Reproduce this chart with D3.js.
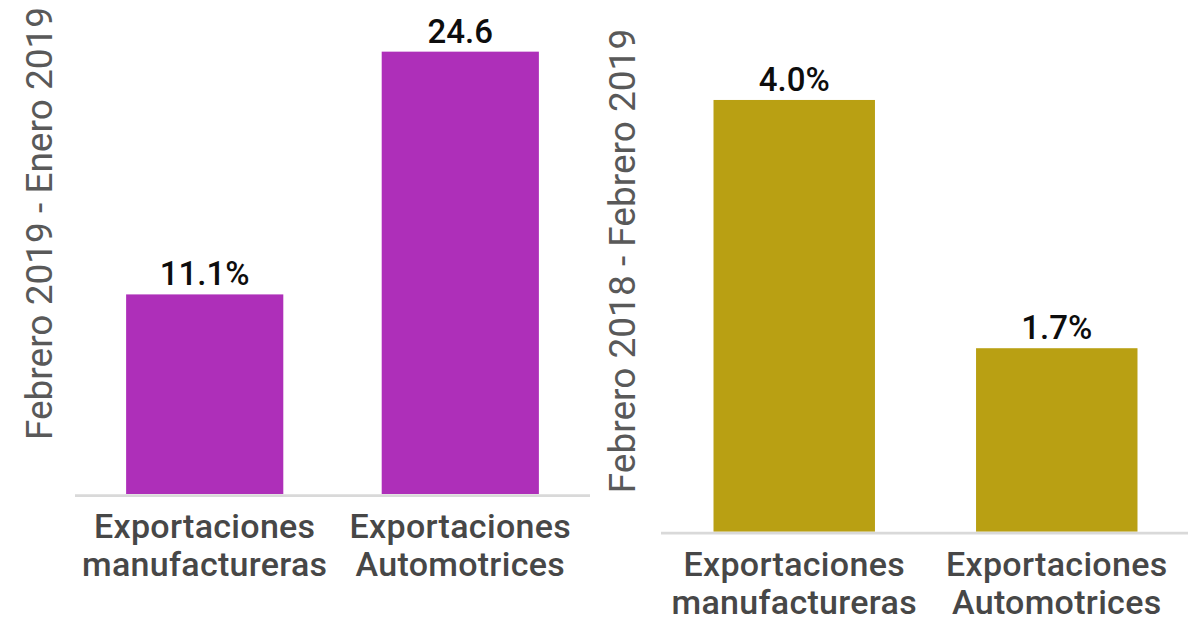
<!DOCTYPE html>
<html>
<head>
<meta charset="utf-8">
<script src="https://cdn.jsdelivr.net/npm/d3@7/dist/d3.min.js"></script>
<style>
  html, body { margin: 0; padding: 0; background: #fff; }
  svg { display: block; font-family: Roboto, "Noto Sans", sans-serif; }
</style>
</head>
<body>
<svg id="chart" width="1188" height="621"></svg>
<script>
// Export growth by category, two comparison periods
const categories = [["Exportaciones", "manufactureras"], ["Exportaciones", "Automotrices"]];

const monthlyTitle = "Febrero 2019 - Enero 2019";
const monthlyValues = [11.1, 24.6];
const monthlyLabels = ["11.1%", "24.6"];
const monthlyMax = 27;

const annualTitle = "Febrero 2018 - Febrero 2019";
const annualValues = [4.0, 1.7];
const annualLabels = ["4.0%", "1.7%"];
const annualMax = 4.5;

const svg = d3.select("#chart");

function panel(cfg) {
  const g = svg.append("g");
  const keys = categories.map((c, i) => i);

  const x = d3.scaleBand()
    .domain(keys)
    .range([cfg.left, cfg.right])
    .paddingInner(0.385)
    .paddingOuter(0.2);

  const y = d3.scaleLinear()
    .domain([0, cfg.max])
    .range([cfg.bottom, cfg.top]);

  // bars
  g.selectAll("rect.bar")
    .data(cfg.values)
    .join("rect")
    .attr("class", "bar")
    .attr("x", (d, i) => x(i))
    .attr("width", x.bandwidth())
    .attr("y", d => y(d))
    .attr("height", d => y(0) - y(d))
    .attr("fill", cfg.color);

  // baseline
  g.append("line")
    .attr("x1", cfg.left).attr("x2", cfg.right)
    .attr("y1", y(0) + 1.5).attr("y2", y(0) + 1.5)
    .attr("stroke", "#d9d9d9")
    .attr("stroke-width", 2.75);

  // value labels
  g.selectAll("text.value")
    .data(cfg.values)
    .join("text")
    .attr("class", "value")
    .attr("x", (d, i) => x(i) + x.bandwidth() / 2)
    .attr("y", d => y(d) - 9)
    .attr("text-anchor", "middle")
    .attr("font-size", 33)
    .attr("font-weight", 500)
    .attr("fill", "#0d0d0d")
    .text((d, i) => cfg.labels[i]);

  // category labels (two lines)
  const cat = g.selectAll("text.cat")
    .data(categories)
    .join("text")
    .attr("class", "cat")
    .attr("text-anchor", "middle")
    .attr("font-size", 34)
    .attr("font-weight", 500)
    .attr("letter-spacing", 0.3)
    .attr("fill", "#474747");
  cat.each(function(lines, i) {
    const t = d3.select(this);
    lines.forEach((ln, j) => {
      t.append("tspan")
        .attr("x", x(i) + x.bandwidth() / 2)
        .attr("y", y(0) + 44 + j * 38)
        .text(ln);
    });
  });

  // vertical axis title
  g.append("text")
    .attr("transform", `translate(${cfg.titleX},${cfg.titleY}) rotate(-90)`)
    .attr("text-anchor", "middle")
    .attr("font-size", 37)
    .attr("fill", "#595959")
    .text(cfg.title);
}

panel({
  left: 75, right: 590, top: 8.5, bottom: 494,
  max: monthlyMax, values: monthlyValues, labels: monthlyLabels,
  color: "#ae2fb9", title: monthlyTitle, titleX: 52, titleY: 223.5
});

panel({
  left: 661, right: 1190, top: 46, bottom: 531.7,
  max: annualMax, values: annualValues, labels: annualLabels,
  color: "#b9a013", title: annualTitle, titleX: 635, titleY: 261
});
</script>
</body>
</html>
